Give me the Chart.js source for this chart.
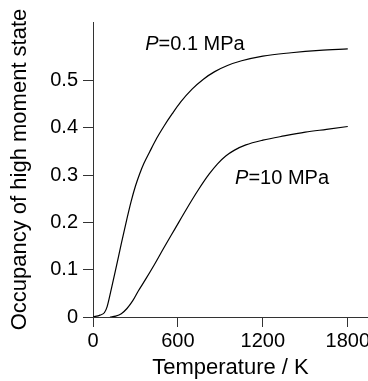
<!DOCTYPE html>
<html><head><meta charset="utf-8">
<script src="https://cdn.jsdelivr.net/npm/chart.js@4"></script>
<style>html,body{margin:0;padding:0;background:#fff}#wrap{width:368px;height:381px}</style>
</head><body><div id="wrap"><canvas id="c" width="368" height="381"></canvas></div>
<script>
// Data
const tempLow = [0, 50, 80, 100, 130, 160, 200, 240, 270, 300, 330, 360, 400, 450, 500, 560, 620, 700, 780, 860, 950, 1050, 1200, 1400, 1600, 1800];
const occLow  = [0, 0.004, 0.009, 0.022, 0.060, 0.100, 0.155, 0.208, 0.245, 0.277, 0.303, 0.325, 0.349, 0.378, 0.403, 0.430, 0.455, 0.482, 0.503, 0.519, 0.532, 0.542, 0.552, 0.559, 0.564, 0.567];
const tempHigh = [120, 160, 200, 240, 280, 320, 370, 430, 500, 580, 660, 740, 820, 880, 940, 1000, 1080, 1200, 1350, 1500, 1650, 1800];
const occHigh  = [0, 0.002, 0.007, 0.018, 0.034, 0.055, 0.079, 0.109, 0.146, 0.187, 0.228, 0.267, 0.302, 0.324, 0.341, 0.353, 0.364, 0.374, 0.383, 0.391, 0.397, 0.403];
const xTickValues = [0, 600, 1200, 1800];
const yTickValues = [0, 0.1, 0.2, 0.3, 0.4, 0.5];
const seriesNames = ['0.1 MPa', '10 MPa'];
const labelAnchors = [[369, 0.564], [1004, 0.281]]; // data coordinates (T, occupancy) of label baselines

const FONT = '"Liberation Sans", Arial, Helvetica, sans-serif';
const AXIS = '#333';

function pts(xs, ys) { return xs.map((x, i) => ({x: x, y: ys[i]})); }

const labelPlugin = {
  id: 'curveLabels',
  afterDatasetsDraw(chart) {
    const ctx = chart.ctx;
    const xs = chart.scales.x, ys = chart.scales.y;
    ctx.save();
    ctx.fillStyle = '#000';
    ctx.textBaseline = 'alphabetic';
    ctx.textAlign = 'left';
    seriesNames.forEach((name, i) => {
      const px = xs.getPixelForValue(labelAnchors[i][0]);
      const py = ys.getPixelForValue(labelAnchors[i][1]);
      ctx.font = 'italic 20px ' + FONT;
      ctx.fillText('P', px, py);
      const w = ctx.measureText('P').width;
      ctx.font = '20px ' + FONT;
      ctx.fillText('=' + name, px + w, py);
    });
    ctx.restore();
  }
};

new Chart(document.getElementById('c'), {
  type: 'line',
  data: {
    datasets: [
      {label: 'P=' + seriesNames[0], data: pts(tempLow, occLow), borderColor: '#000', borderWidth: 1.2,
       pointRadius: 0, fill: false, cubicInterpolationMode: 'monotone'},
      {label: 'P=' + seriesNames[1], data: pts(tempHigh, occHigh), borderColor: '#000', borderWidth: 1.2,
       pointRadius: 0, fill: false, cubicInterpolationMode: 'monotone'}
    ]
  },
  options: {
    responsive: false,
    animation: false,
    devicePixelRatio: 1,
    layout: {padding: {top: 22, right: 0, left: 0, bottom: 0}},
    plugins: {legend: {display: false}, tooltip: {enabled: false}},
    scales: {
      x: {
        type: 'linear', min: 0, max: 1943,
        afterBuildTicks: s => { s.ticks = xTickValues.map(v => ({value: v})); },
        afterFit: s => { s.height = 64; s.paddingLeft = 0; s.paddingRight = 0; },
        grid: {display: true, drawOnChartArea: false, drawTicks: true, tickLength: 10, color: AXIS, lineWidth: 1},
        border: {display: true, color: AXIS, width: 1},
        ticks: {color: '#000', font: {family: FONT, size: 20}, padding: 2, maxRotation: 0,
                callback: v => String(v)},
        title: {display: true, text: 'Temperature / K', color: '#000', font: {family: FONT, size: 22},
                padding: {top: 0, bottom: 0}}
      },
      y: {
        type: 'linear', min: 0, max: 0.624,
        afterBuildTicks: s => { s.ticks = yTickValues.map(v => ({value: v})); },
        afterFit: s => { s.width = 93; s.paddingTop = 0; s.paddingBottom = 0; },
        grid: {display: true, drawOnChartArea: false, drawTicks: true, tickLength: 10, color: AXIS, lineWidth: 1},
        border: {display: true, color: AXIS, width: 1},
        ticks: {color: '#000', font: {family: FONT, size: 20}, padding: 5,
                callback: v => (v === 0 ? '0' : v.toFixed(1))},
        title: {display: true, text: 'Occupancy of high moment state', color: '#000', font: {family: FONT, size: 22},
                padding: {top: 7, bottom: 0}}
      }
    }
  },
  plugins: [labelPlugin]
});
</script>
</body></html>
